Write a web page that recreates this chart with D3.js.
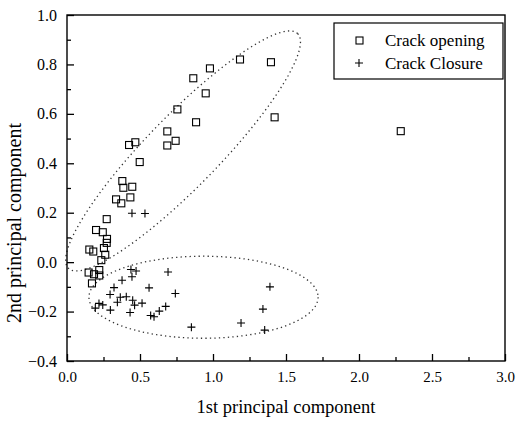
<!DOCTYPE html>
<html>
<head>
<meta charset="utf-8">
<script src="https://cdn.jsdelivr.net/npm/d3@7"></script>
<style>
  body { margin: 0; background: #fff; }
</style>
</head>
<body>
<div id="vis"></div>
<script>
// ==== DATA ====
const openingX = [1.185, 0.979, 0.865, 1.397, 0.950, 0.756, 1.422, 0.884, 2.286, 0.687, 0.744, 0.687,
  0.468, 0.425, 0.498, 0.379, 0.386, 0.447, 0.336, 0.372, 0.434, 0.272, 0.199, 0.245, 0.274, 0.272,
  0.253, 0.153, 0.180, 0.262, 0.235, 0.221, 0.148, 0.185, 0.221, 0.171];
const openingY = [0.820, 0.784, 0.744, 0.809, 0.683, 0.618, 0.586, 0.566, 0.530, 0.529, 0.491, 0.472,
  0.485, 0.474, 0.405, 0.328, 0.301, 0.305, 0.254, 0.238, 0.262, 0.174, 0.130, 0.121, 0.094, 0.078,
  0.057, 0.051, 0.043, 0.030, 0.008, -0.032, -0.042, -0.049, -0.054, -0.086];

const closureX = [0.445, 0.534, 0.438, 0.473, 0.445, 0.692, 0.377, 0.322, 0.562, 0.295, 0.742, 0.365,
  0.406, 0.345, 0.450, 0.463, 0.514, 0.219, 0.245, 0.194, 0.297, 0.432, 0.676, 0.632, 0.573, 0.596,
  0.852, 1.192, 1.390, 1.342, 1.354];
const closureY = [0.198, 0.197, -0.030, -0.036, -0.059, -0.040, -0.073, -0.103, -0.104, -0.131, -0.127, -0.142,
  -0.140, -0.162, -0.154, -0.174, -0.166, -0.167, -0.173, -0.186, -0.194, -0.204, -0.179, -0.198, -0.216, -0.221,
  -0.263, -0.246, -0.100, -0.190, -0.275];

const xTicks = [0.0, 0.5, 1.0, 1.5, 2.0, 2.5, 3.0];
const yTicks = [-0.4, -0.2, 0.0, 0.2, 0.4, 0.6, 0.8, 1.0];
const legendLabels = ["Crack opening", "Crack Closure"];

// dotted grouping ellipses: major axis ends (data units) and half-width (data units of y)
const ellipseA = {x1: 0.01, y1: -0.025, x2: 1.58, y2: 0.925, half: 0.145};
const ellipseB = {cx: 0.935, cy: -0.142, rx: 0.785, ry: 0.166};

const FONT = "Liberation Serif";

// ==== LAYOUT ====
const width = 525, height = 421;
const margin = {left: 67, right: 20, top: 15, bottom: 60};
const svg = d3.select("#vis").append("svg")
  .attr("width", width)
  .attr("height", height);

const x = d3.scaleLinear().domain([0, 3]).range([margin.left, width - margin.right]);
const y = d3.scaleLinear().domain([-0.4, 1.0]).range([height - margin.bottom, margin.top]);

// ==== ELLIPSES ====
function ellipsePath(cx, cy, a, b, ang) {
  const pts = d3.range(0, 361, 3).map(t => {
    const r = t * Math.PI / 180;
    const ex = a * Math.cos(r), ey = b * Math.sin(r);
    return [cx + ex * Math.cos(ang) - ey * Math.sin(ang), cy + ex * Math.sin(ang) + ey * Math.cos(ang)];
  });
  return d3.line()(pts);
}

{
  const px1 = x(ellipseA.x1), py1 = y(ellipseA.y1), px2 = x(ellipseA.x2), py2 = y(ellipseA.y2);
  const a = Math.hypot(px2 - px1, py2 - py1) / 2;
  const b = y(0) - y(ellipseA.half);
  svg.append("path")
    .attr("d", ellipsePath((px1 + px2) / 2, (py1 + py2) / 2, a, b, Math.atan2(py2 - py1, px2 - px1)))
    .attr("fill", "none").attr("stroke", "#333").attr("stroke-width", 1.3)
    .attr("stroke-dasharray", "1.3 3.2");
  svg.append("path")
    .attr("d", ellipsePath(x(ellipseB.cx), y(ellipseB.cy), x(ellipseB.rx) - x(0), y(0) - y(ellipseB.ry), 0))
    .attr("fill", "none").attr("stroke", "#333").attr("stroke-width", 1.3)
    .attr("stroke-dasharray", "1.3 3.2");
}

// ==== AXES ====
const gx = svg.append("g").attr("transform", `translate(0,${y(-0.4)})`);
gx.append("g").call(d3.axisBottom(x).tickValues(xTicks).tickSizeInner(-7).tickSizeOuter(0).tickPadding(10)
    .tickFormat(d3.format(".1f")));
gx.append("g").call(d3.axisBottom(x).tickValues(d3.range(0.25, 3, 0.5)).tickSizeInner(-4).tickSizeOuter(0).tickFormat(""));

const gy = svg.append("g").attr("transform", `translate(${x(0)},0)`);
gy.append("g").call(d3.axisLeft(y).tickValues(yTicks).tickSizeInner(-7).tickSizeOuter(0).tickPadding(10)
    .tickFormat(d3.format(".1f")));
gy.append("g").call(d3.axisLeft(y).tickValues(d3.range(-0.3, 1.0, 0.2)).tickSizeInner(-4).tickSizeOuter(0).tickFormat(""));

gx.selectAll("text").attr("font-family", FONT).attr("font-size", 15).attr("fill", "#000");
gy.selectAll("text").attr("font-family", FONT).attr("font-size", 16).attr("fill", "#000");
svg.selectAll(".domain").remove();
svg.selectAll(".tick line").attr("stroke", "#000").attr("stroke-width", 1.3);

svg.append("rect")
  .attr("x", x(0)).attr("y", y(1.0))
  .attr("width", x(3) - x(0)).attr("height", y(-0.4) - y(1.0))
  .attr("fill", "none").attr("stroke", "#000").attr("stroke-width", 1.4);

svg.append("text")
  .attr("x", (x(0) + x(3)) / 2).attr("y", 413)
  .attr("text-anchor", "middle")
  .attr("font-family", FONT).attr("font-size", 18.5)
  .text("1st principal component");

svg.append("text")
  .attr("transform", `translate(21,${(y(-0.4) + y(1.0)) / 2 + 35}) rotate(-90)`)
  .attr("text-anchor", "middle")
  .attr("font-family", FONT).attr("font-size", 20)
  .text("2nd principal component");

// ==== MARKS ====
const opening = openingX.map((v, i) => ({x: v, y: openingY[i]}));
const closure = closureX.map((v, i) => ({x: v, y: closureY[i]}));

svg.append("g").selectAll("rect")
  .data(opening).enter().append("rect")
  .attr("x", d => x(d.x) - 3.5).attr("y", d => y(d.y) - 3.5)
  .attr("width", 7).attr("height", 7)
  .attr("fill", "none").attr("stroke", "#000").attr("stroke-width", 1.1);

svg.append("g").selectAll("path")
  .data(closure).enter().append("path")
  .attr("d", d => `M${x(d.x) - 4},${y(d.y)}H${x(d.x) + 4}M${x(d.x)},${y(d.y) - 4}V${y(d.y) + 4}`)
  .attr("stroke", "#000").attr("stroke-width", 1.1);

// ==== LEGEND ====
const leg = svg.append("g");
leg.append("rect")
  .attr("x", 334).attr("y", 23).attr("width", 169).attr("height", 56)
  .attr("fill", "#fff").attr("stroke", "#000").attr("stroke-width", 1.2);
leg.append("rect").attr("x", 356).attr("y", 37).attr("width", 7).attr("height", 7)
  .attr("fill", "none").attr("stroke", "#000").attr("stroke-width", 1.1);
leg.append("path").attr("d", "M355,63H363M359,59V67").attr("stroke", "#000").attr("stroke-width", 1.1);
leg.selectAll("text.lab")
  .data(legendLabels).enter().append("text")
  .attr("class", "lab")
  .attr("x", 385).attr("y", (d, i) => 46 + i * 22.5)
  .attr("font-family", FONT).attr("font-size", 17)
  .text(d => d);
</script>
</body>
</html>
